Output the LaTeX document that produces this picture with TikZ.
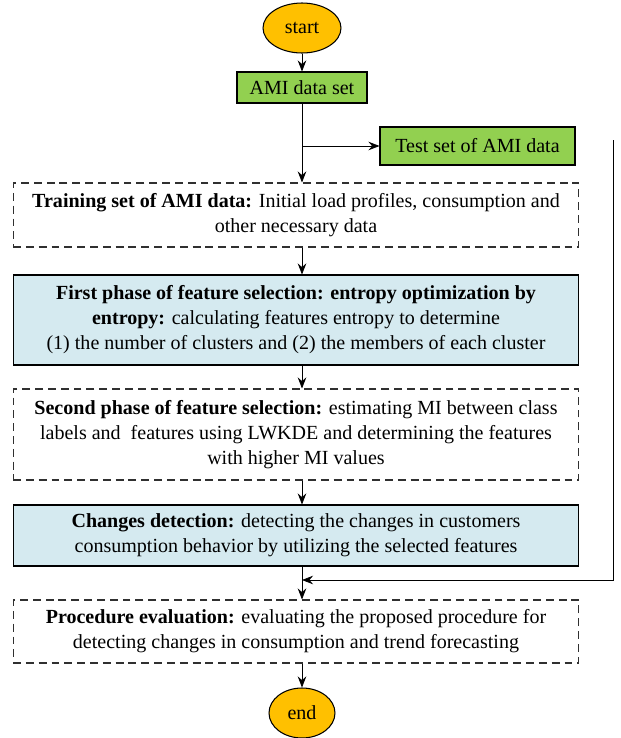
\documentclass[tikz,border=0pt]{standalone}
\usepackage{fontspec}
\setmainfont{Liberation Serif}
\usetikzlibrary{shapes.geometric,arrows.meta}

\definecolor{termyellow}{HTML}{FFC000}
\definecolor{datagreen}{HTML}{92D050}
\definecolor{phaseblue}{HTML}{D5EAF0}
\definecolor{dashgray}{HTML}{303030}

\begin{document}
\begin{tikzpicture}[x=0.02cm,y=-0.02cm,
		font=\fontsize{11.4}{14.2}\selectfont,
		>={Stealth[length=2.2mm,width=1.7mm]},
		term/.style={draw,ellipse,fill=termyellow,inner sep=0pt,line width=0.6pt,minimum height=1cm},
		databox/.style={draw,fill=datagreen,inner sep=0pt,line width=0.6pt,minimum height=#1},
		stepdash/.style={draw=dashgray,line width=0.6pt,dash pattern=on 4.5pt off 2.8pt,align=center,minimum width=11.32cm,minimum height=#1},
		stepfill/.style={draw,fill=phaseblue,line width=0.6pt,align=center,minimum width=11.32cm,minimum height=#1}]
		\useasboundingbox (0,0) rectangle (620,738);
		
		% Nodes
		\node[term,minimum width=1.56cm] (start) at (302,28) {start};
		\node[databox=0.62cm,minimum width=2.6cm] (ami) at (302,87.5) {AMI data set};
		\node[databox=0.76cm,minimum width=3.9cm] (test) at (477.5,146) {Test set of AMI data};
		\node[stepdash=1.28cm] (train) at (296,215) {\textbf{Training set of AMI data:} Initial load profiles, consumption and\\ other necessary data};
		\node[stepfill=1.8cm] (first) at (296,320) {\textbf{First phase of feature selection: entropy optimization by}\\ \textbf{entropy:} calculating features entropy to determine\\ (1) the number of clusters and (2) the members of each cluster};
		\node[stepdash=1.82cm] (second) at (296,434.5) {\textbf{Second phase of feature selection:} estimating MI between class\\ labels and\ \ features using LWKDE and determining the features\\ with higher MI values};
		\node[stepfill=1.22cm] (changes) at (296,535.5) {\textbf{Changes detection:} detecting the changes in customers\\ consumption behavior by utilizing the selected features};
		\node[stepdash=1.26cm] (proc) at (296,631.5) {\textbf{Procedure evaluation:} evaluating the proposed procedure for\\ detecting changes in consumption and trend forecasting};
		\node[term,minimum width=1.32cm] (end) at (302,713) {end};
		\coordinate (fbtop) at (613,140);
		\coordinate (join) at (302,580);
		
		% Edges
		\draw[->] (start) -- (ami);
		\draw[->] (ami) -- (train.north -| ami);
		\draw[->] (test.west -| ami) -- (test.west);
		\draw[->] (train.south -| ami) -- (first.north -| ami);
		\draw[->] (first.south -| ami) -- (second.north -| ami);
		\draw[->] (second.south -| ami) -- (changes.north -| ami);
		\draw[->] (changes.south -| ami) -- (proc.north -| ami);
		\draw[->] (proc.south -| ami) -- (end);
		\draw[->] (fbtop) |- (join);
		
	\end{tikzpicture}
\end{document}
